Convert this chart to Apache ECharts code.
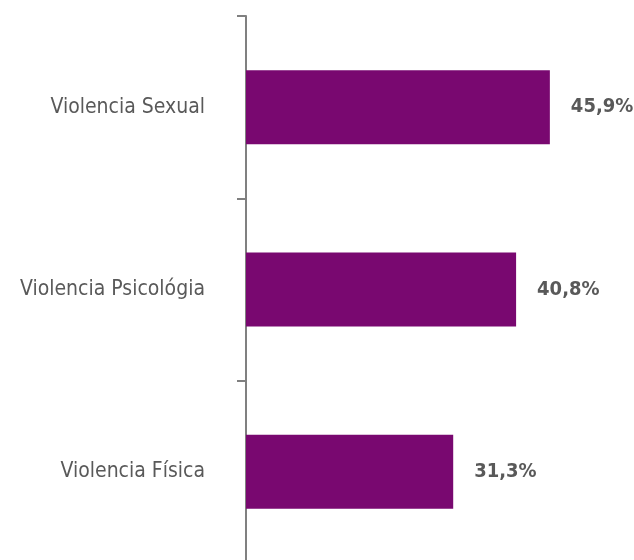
<!DOCTYPE html>
<html>
<head>
<meta charset="utf-8">
<script src="https://cdn.jsdelivr.net/npm/echarts@6/dist/echarts.min.js"></script>
<style>
  html, body { margin: 0; padding: 0; background: #fff; }
  #main { width: 634px; height: 560px; }
</style>
</head>
<body>
<div id="main"></div>
<script>
// categorías de abajo hacia arriba
var categories = ['Violencia Física', 'Violencia Psicológia', 'Violencia Sexual']
var values = [31.3, 40.8, 45.9]

var FONT = '"Liberation Sans Narrow", "DejaVu Sans Condensed", sans-serif'

var myChart = echarts.init(document.getElementById('main'))
var option = {
  animation: false,
  grid: {
    left: 246,
    top: 16,
    width: 331,
    height: 547,
    outerBoundsMode: 'none'
  },
  xAxis: {
    type: 'value',
    min: 0,
    max: 50,
    show: false
  },
  yAxis: {
    type: 'category',
    data: categories,
    axisLine: { show: true, lineStyle: { color: '#808080', width: 2 } },
    axisTick: { show: true, length: 9, lineStyle: { color: '#808080', width: 2 } },
    axisLabel: {
      margin: 41,
      color: '#595959',
      fontSize: 21,
      fontFamily: FONT
    }
  },
  series: [
    {
      type: 'bar',
      data: values,
      barWidth: 74,
      itemStyle: { color: '#790870' },
      label: {
        show: true,
        position: 'right',
        distance: 21,
        color: '#595959',
        fontSize: 20,
        fontWeight: 'bold',
        fontFamily: FONT,
        formatter: function (p) {
          return p.value.toFixed(1).replace('.', ',') + '%'
        }
      }
    }
  ]
}
myChart.setOption(option)
</script>
</body>
</html>
